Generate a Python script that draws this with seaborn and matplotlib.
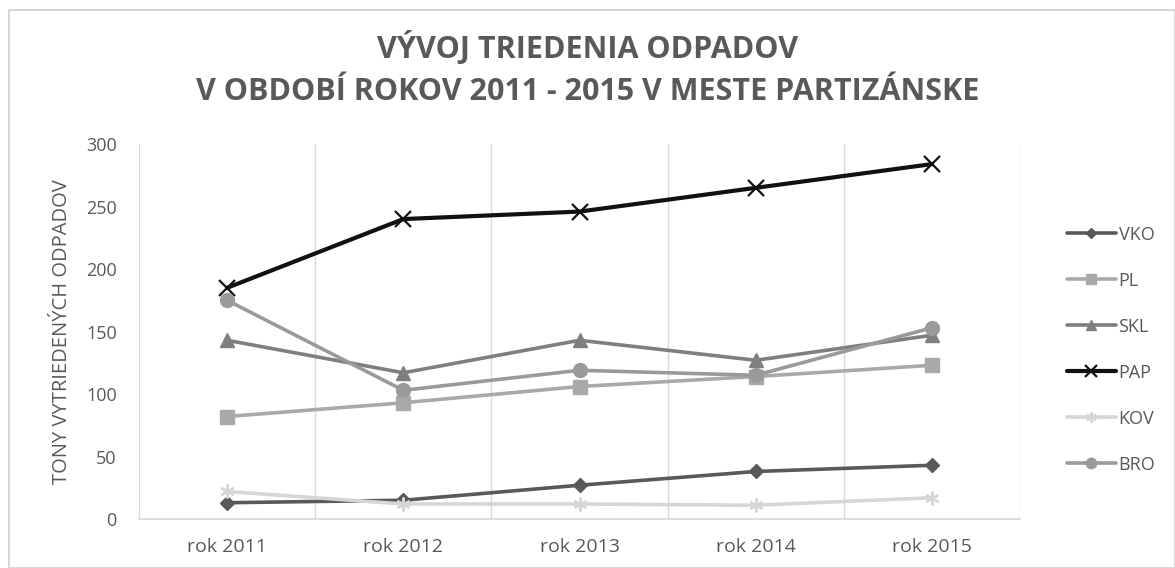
import matplotlib
matplotlib.use("Agg")
import matplotlib.pyplot as plt
import pandas as pd
import seaborn as sns

years = ["rok 2011", "rok 2012", "rok 2013", "rok 2014", "rok 2015"]
series_names = ["VKO", "PL", "SKL", "PAP", "KOV", "BRO"]
vko = [13, 15, 27, 38, 43]
pl = [82, 93, 106, 114, 123]
skl = [143, 117, 143, 127, 147]
pap = [185, 240, 246, 265, 284]
kov = [22, 12, 12, 11, 17]
bro = [175, 103, 119, 115, 153]
y_ticks = [0, 50, 100, 150, 200, 250, 300]

values = [vko, pl, skl, pap, kov, bro]
colors = ["#595959", "#a9a9a9", "#7f7f7f", "#111111", "#d6d6d6", "#9a9a9a"]
markers = ["D", "s", "^", "x", (6, 2, 0), "o"]
sizes = [7, 10, 10, 11, 10, 10]

rows = []
for name, vals in zip(series_names, values):
    for i, v in enumerate(vals):
        rows.append({"pos": i, "year": years[i], "series": name, "tony": v})
df = pd.DataFrame(rows)

sns.set_theme(style="white")
plt.rcParams["font.family"] = ["Open Sans", "DejaVu Sans"]

fig = plt.figure(figsize=(11.75, 5.68), dpi=100)
ax = fig.add_axes([0.1183, 0.0863, 0.7498, 0.66])

# outer chart frame
fig.patches.append(plt.Rectangle((0.008, 0.0), 0.992, 0.982, transform=fig.transFigure,
                                 fill=False, edgecolor="#d0d0d0", linewidth=1.2))

for name, color, marker, ms in zip(series_names, colors, markers, sizes):
    sub = df[df["series"] == name]
    sns.lineplot(data=sub, x="pos", y="tony", ax=ax, color=color, linewidth=3 if name == "PAP" else 2.6,
                 marker=marker, markersize=ms, markeredgecolor=color,
                 markeredgewidth=1.6 if name in ("PAP", "KOV") else 1, label=name)

for xv in [-0.5, 0.5, 1.5, 2.5, 3.5, 4.5]:
    ax.axvline(xv, color="#d9d9d9", linewidth=1, zorder=0)

ax.set_xlim(-0.5, 4.5)
ax.set_ylim(0, 300)
ax.set_xticks(range(len(years)))
ax.set_xticklabels(years)
ax.set_yticks(y_ticks)
ax.tick_params(axis="both", length=0, labelsize=13, labelcolor="#595959")
ax.tick_params(axis="y", pad=16)
ax.tick_params(axis="x", pad=14)
for lbl in ax.get_xticklabels():
    lbl.set_fontsize(14)
for sp in ["top", "right", "left"]:
    ax.spines[sp].set_visible(False)
ax.spines["bottom"].set_color("#d9d9d9")
ax.set_xlabel("")
ax.set_ylabel("TONY VYTRIEDENÝCH ODPADOV", fontsize=14.5, color="#595959", labelpad=10)

fig.text(0.5, 0.915, "VÝVOJ TRIEDENIA ODPADOV", ha="center", va="center",
         fontsize=22, fontweight="bold", color="#595959")
fig.text(0.5, 0.838, "V OBDOBÍ ROKOV 2011 - 2015 V MESTE PARTIZÁNSKE", ha="center", va="center",
         fontsize=22, fontweight="bold", color="#595959")

handles, labels = ax.get_legend_handles_labels()
leg = ax.legend(handles, labels, loc="center left", bbox_to_anchor=(1.035, 0.452), frameon=False,
                fontsize=13, labelspacing=1.55, handlelength=2.7, handletextpad=0.15,
                markerscale=0.75)
for t in leg.get_texts():
    t.set_color("#595959")

fig.savefig("out.png", dpi=100)
